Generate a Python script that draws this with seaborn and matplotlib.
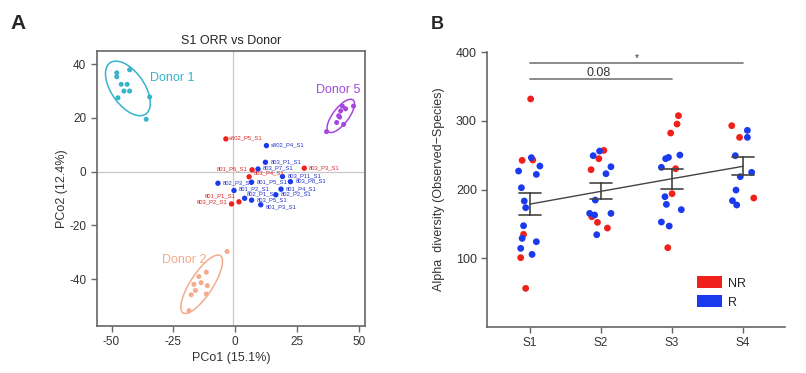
import numpy as np
import pandas as pd
import matplotlib
matplotlib.use("Agg")
import matplotlib.pyplot as plt
from matplotlib.patches import Ellipse, Patch
import seaborn as sns

# ---------------- panel A : PCoA, S1 samples vs donors ----------------
donor1_x = [-47.9, -47.9, -42.7, -46.1, -43.7, -45.0, -42.7, -47.4, -34.6, -36.0]
donor1_y = [36.8, 35.3, 37.9, 32.5, 32.5, 30.0, 30.0, 27.5, 27.8, 19.5]
donor2_x = [-3.3, -11.7, -14.7, -13.8, -16.7, -11.3, -16.1, -17.8, -11.7, -18.7]
donor2_y = [-29.7, -37.4, -39.0, -41.3, -41.9, -42.4, -44.2, -45.8, -45.5, -51.7]
donor5_x = [36.9, 41.0, 41.8, 42.6, 43.3, 44.6, 47.8, 43.8, 42.2]
donor5_y = [14.9, 18.3, 20.8, 22.6, 24.4, 23.4, 24.4, 17.6, 20.3]

sample_names = ["s802_P5_S1", "s802_P4_S1", "803_P1_S1", "803_P3_S1", "803_P7_S1",
                "801_P6_S1", "803_P4_S1", "803_P11_S1", "802_P3_S1", "801_P5_S1",
                "803_P8_S1", "801_P2_S1", "801_P4_S1", "802_P1_S1", "802_P2_S1",
                "803_P5_S1", "801_P1_S1", "803_P2_S1", "801_P3_S1"]
sample_x = [-3.8, 12.6, 12.2, 27.9, 9.2, 6.8, 5.6, 19.1, -7.0, 6.6,
            22.3, -0.5, 18.5, 3.8, 16.4, 6.6, 1.5, -1.5, 10.3]
sample_y = [12.2, 9.7, 3.5, 1.3, 1.0, 0.7, -1.9, -1.8, -4.3, -3.9,
            -3.7, -7.0, -6.5, -9.9, -8.6, -10.6, -11.2, -12.0, -12.3]
sample_resp = ["NR", "R", "R", "NR", "R", "NR", "NR", "R", "R", "R",
               "R", "R", "R", "R", "R", "R", "NR", "NR", "R"]

# ---------------- panel B : alpha diversity over time ----------------
stages = ["S1", "S2", "S3", "S4"]
s1_resp = ["NR"] * 6 + ["R"] * 12
s1_vals = [332, 242.5, 243, 134.6, 100.6, 55.9,
           226.9, 246.4, 234.2, 222, 202.6, 183.2, 173.5, 147.2, 128.8, 114.2, 123.9, 105.4]
s1_jit = [0.01, -0.11, 0.04, -0.09, -0.13, -0.06,
          -0.16, 0.02, 0.14, 0.09, -0.12, -0.08, -0.06, -0.09, -0.11, -0.13, 0.09, 0.03]
s2_resp = ["NR"] * 6 + ["R"] * 9
s2_vals = [257, 244.9, 228.9, 160.3, 152.1, 143.8,
           249.3, 256, 233.2, 223, 184.6, 165.2, 162.8, 165.2, 134.1]
s2_jit = [0.04, -0.03, -0.14, -0.13, -0.05, 0.09,
          -0.11, -0.02, 0.14, 0.07, -0.08, -0.16, -0.09, 0.14, -0.06]
s3_resp = ["NR"] * 6 + ["R"] * 9
s3_vals = [307.6, 295.4, 282.3, 230.3, 193.9, 115.2,
           232.3, 244.9, 246.8, 250.2, 189.5, 178.3, 170.6, 152.6, 146.7]
s3_jit = [0.09, 0.07, -0.02, 0.05, 0.0, -0.06,
          -0.15, -0.09, -0.05, 0.11, -0.10, -0.08, 0.13, -0.15, -0.04]
s4_resp = ["NR"] * 3 + ["R"] * 8
s4_vals = [293, 276, 187.6,
           286.2, 276, 249.3, 218.7, 225, 199.2, 183.7, 177.4]
s4_jit = [-0.16, -0.05, 0.15,
          0.06, 0.06, -0.11, -0.04, 0.12, -0.10, -0.15, -0.09]

sig_pairs = [("S1", "S4"), ("S1", "S3")]
sig_heights = [384, 360.5]
sig_texts = ["*", "0.08"]

resp_colors = {"NR": "#F0211B", "R": "#1A3AEE"}
label_colors = {"NR": "#E02424", "R": "#2233CC"}
donor_colors = {"Donor 1": "#35B4CA", "Donor 2": "#F4AB8C", "Donor 5": "#A546E0"}

# label placement tweaks (offset in points, alignment)
label_place = {
    "801_P6_S1": (-3, 0.5, "right"),
    "801_P1_S1": (-2, 4, "right"),
    "803_P2_S1": (-3, 1.5, "right"),
    "803_P4_S1": (3, 3, "left"),
    "802_P1_S1": (1.5, 3.5, "left"),
    "801_P2_S1": (3.5, 1.5, "left"),
    "801_P3_S1": (3.5, -1.5, "left"),
    "s802_P5_S1": (2, 1, "left"),
}

sns.set_style("ticks")
plt.rcParams["font.family"] = ["Liberation Sans", "DejaVu Sans"]
plt.rcParams["axes.unicode_minus"] = False


def draw_ellipse(ax, x, y, color, n_std=1.85):
    cov = np.cov(x, y)
    vals, vecs = np.linalg.eigh(cov)
    order = vals.argsort()[::-1]
    vals, vecs = vals[order], vecs[:, order]
    angle = np.degrees(np.arctan2(vecs[1, 0], vecs[0, 0]))
    w, h = 2 * n_std * np.sqrt(vals)
    ax.add_patch(Ellipse((np.mean(x), np.mean(y)), w, h * 1.15, angle=angle,
                         fill=False, edgecolor=color, lw=1.1))


fig = plt.figure(figsize=(8.06, 3.73), dpi=100)
ax_a = fig.add_axes([0.120, 0.1268, 0.333, 0.7365])
ax_b = fig.add_axes([0.6046, 0.1241, 0.3694, 0.7357])

# ---- panel A
donors = pd.DataFrame({
    "x": donor1_x + donor2_x + donor5_x,
    "y": donor1_y + donor2_y + donor5_y,
    "donor": ["Donor 1"] * len(donor1_x) + ["Donor 2"] * len(donor2_x) + ["Donor 5"] * len(donor5_x),
})
samples = pd.DataFrame({"name": sample_names, "x": sample_x, "y": sample_y, "resp": sample_resp})

ax_a.axhline(0, color="#C8C8C8", lw=0.9, zorder=0)
ax_a.axvline(-1, color="#C8C8C8", lw=0.9, zorder=0)

sns.scatterplot(data=donors, x="x", y="y", hue="donor", palette=donor_colors,
                s=13, edgecolor="none", legend=False, ax=ax_a)
for name, grp in donors.groupby("donor"):
    draw_ellipse(ax_a, grp["x"].values, grp["y"].values, donor_colors[name])

sns.scatterplot(data=samples, x="x", y="y", hue="resp", palette=resp_colors,
                s=15, edgecolor="none", legend=False, ax=ax_a)
for _, row in samples.iterrows():
    dx, dy, ha = label_place.get(row["name"], (3.5, 0.5, "left"))
    ax_a.annotate(row["name"], (row["x"], row["y"]), xytext=(dx, dy),
                  textcoords="offset points", ha=ha, va="center",
                  fontsize=4.2, color=label_colors[row["resp"]])

ax_a.text(-34.3, 35, "Donor 1", color=donor_colors["Donor 1"], fontsize=9, va="center")
ax_a.text(-29.8, -32.8, "Donor 2", color=donor_colors["Donor 2"], fontsize=9, va="center")
ax_a.text(32.5, 30.3, "Donor 5", color=donor_colors["Donor 5"], fontsize=9, va="center")

ax_a.set_xlim(-56, 52.5)
ax_a.set_ylim(-57.3, 44.9)
ax_a.set_xticks([-50, -25, 0, 25, 50])
ax_a.set_yticks([40, 20, 0, -20, -40])
ax_a.set_xlabel("PCo1 (15.1%)", fontsize=9, color="#333333", labelpad=3)
ax_a.set_ylabel("PCo2 (12.4%)", fontsize=9, color="#333333", labelpad=1)
ax_a.set_title("S1 ORR vs Donor", fontsize=9, color="#222222", pad=5)
for sp in ax_a.spines.values():
    sp.set_color("#666666")
    sp.set_linewidth(1.2)
ax_a.tick_params(direction="out", length=4, width=1, color="#666666",
                 labelsize=8.5, labelcolor="#333333")

# ---- panel B
alpha = pd.DataFrame({
    "stage": ["S1"] * len(s1_vals) + ["S2"] * len(s2_vals) + ["S3"] * len(s3_vals) + ["S4"] * len(s4_vals),
    "resp": s1_resp + s2_resp + s3_resp + s4_resp,
    "value": s1_vals + s2_vals + s3_vals + s4_vals,
    "jitter": s1_jit + s2_jit + s3_jit + s4_jit,
})
alpha["pos"] = alpha["stage"].map({s: i for i, s in enumerate(stages)}) + alpha["jitter"]

sns.scatterplot(data=alpha, x="pos", y="value", hue="resp", palette=resp_colors,
                s=24, edgecolor="none", legend=False, ax=ax_b)
sns.pointplot(data=alpha, x="stage", y="value", order=stages, errorbar="se",
              capsize=0.3, color="#444444", markers="none", linewidth=1.0,
              err_kws={"linewidth": 1.2}, ax=ax_b)
for line in ax_b.lines:
    line.set_zorder(5)

for (a, b), h, t in zip(sig_pairs, sig_heights, sig_texts):
    xa, xb = stages.index(a), stages.index(b)
    ax_b.plot([xa, xb], [h, h], color="#777777", lw=1.2)
    ax_b.text((xa + xb) / 2 - (0.04 if t != "*" else 0), h + 1, t, ha="center",
              va="bottom", fontsize=9 if t != "*" else 7.5, color="#333333")

ax_b.set_xlim(-0.6, 3.59)
ax_b.set_ylim(0, 400)
ax_b.set_yticks([100, 200, 300, 400])
ax_b.set_xlabel("")
ax_b.set_ylabel("Alpha  diversity (Observed\u2212Species)", fontsize=9, color="#333333", labelpad=8)
sns.despine(ax=ax_b)
for side in ["left", "bottom"]:
    ax_b.spines[side].set_color("#666666")
    ax_b.spines[side].set_linewidth(1.2)
ax_b.tick_params(direction="out", length=4, width=1, color="#666666", labelcolor="#333333")
ax_b.tick_params(axis="y", labelsize=9)
ax_b.tick_params(axis="x", labelsize=8.5)

handles = [Patch(facecolor=resp_colors[k], edgecolor="none", label=k) for k in ["NR", "R"]]
ax_b.legend(handles=handles, loc="lower left", bbox_to_anchor=(0.665, 0.025), frameon=False,
            fontsize=9, handlelength=2.0, handleheight=1.1, labelspacing=0.45, handletextpad=0.5)

fig.text(0.0124, 0.962, "A", fontsize=15, fontweight="bold", va="top", ha="left")
fig.text(0.535, 0.957, "B", fontsize=13, fontweight="bold", va="top", ha="left")

fig.savefig("out.png", dpi=100)
